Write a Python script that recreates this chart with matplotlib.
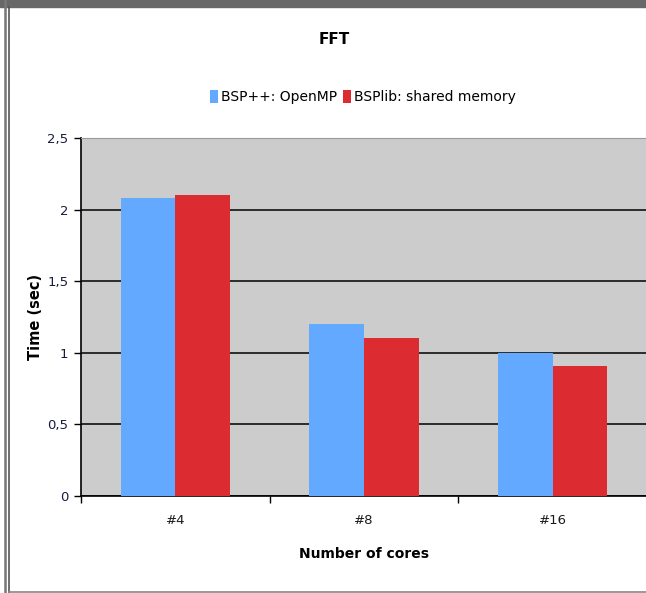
import matplotlib.pyplot as plt
import matplotlib.lines as mlines
import matplotlib.patches as mpatches
import numpy as np

categories = ['#4', '#8', '#16']
bsppp_openmp = [2.08, 1.20, 1.00]
bsplib_shared = [2.10, 1.10, 0.91]
yticks = [0, 0.5, 1, 1.5, 2, 2.5]
ytick_labels = ['0', '0,5', '1', '1,5', '2', '2,5']

blue = '#63a9ff'
red = '#dc2c31'

fig = plt.figure(figsize=(6.46, 5.93), dpi=100)
ax = fig.add_axes([81 / 646, 97 / 593, 566 / 646, 358 / 593])
ax.set_facecolor('#cccccc')

x = np.arange(len(categories))
w = 0.289
ax.bar(x - w / 2, bsppp_openmp, w, color=blue, label='BSP++: OpenMP', zorder=3)
ax.bar(x + w / 2, bsplib_shared, w, color=red, label='BSPlib: shared memory', zorder=3)

ax.set_xlim(-0.5, 2.5)
ax.set_ylim(0, 2.5)
ax.set_yticks(yticks)
ax.set_yticklabels(ytick_labels, fontsize=9.5, color='#1a1a40')
ax.yaxis.grid(True, color='black', linewidth=1.1, zorder=1)
ax.tick_params(axis='y', length=5, width=1, pad=4)

ax.set_xticks([-0.5, 0.5, 1.5, 2.5])
ax.set_xticklabels([])
ax.tick_params(axis='x', which='major', length=5, width=1, direction='out')
ax.set_xticks(x, minor=True)
ax.set_xticklabels(categories, minor=True, fontsize=9.5, color='#1a1a1a')
ax.tick_params(axis='x', which='minor', length=0, pad=13)

ax.spines['top'].set_color('#999999')
ax.spines['right'].set_visible(False)
ax.spines['left'].set_linewidth(1.2)
ax.spines['bottom'].set_linewidth(1.2)

ax.set_ylabel('Time (sec)', fontsize=10.5, fontweight='bold', labelpad=3)
ax.set_xlabel('Number of cores', fontsize=10, fontweight='bold', labelpad=14)

fig.text(334 / 646, 1 - 40 / 593, 'FFT', ha='center', va='center', fontsize=11, fontweight='bold')
fig.legend(loc='center', bbox_to_anchor=(363 / 646, 1 - 97 / 593), ncol=2, frameon=False,
           fontsize=10, handlelength=0.6, handleheight=1.1, handletextpad=0.2, columnspacing=0.4)

# screenshot border
fig.patches.append(mpatches.Rectangle((0, 1 - 7 / 593), 1, 7 / 593, transform=fig.transFigure,
                                      color='#686868', zorder=0))
fig.lines.append(mlines.Line2D([5 / 646, 5 / 646], [0, 1], transform=fig.transFigure,
                               color='#777777', linewidth=1.8))
fig.lines.append(mlines.Line2D([9 / 646, 9 / 646], [0, 1 - 7 / 593], transform=fig.transFigure,
                               color='#555555', linewidth=1.2))
fig.lines.append(mlines.Line2D([9 / 646, 1], [1.5 / 593, 1.5 / 593], transform=fig.transFigure,
                               color='#888888', linewidth=1.2))

plt.savefig('out.png', dpi=100)
